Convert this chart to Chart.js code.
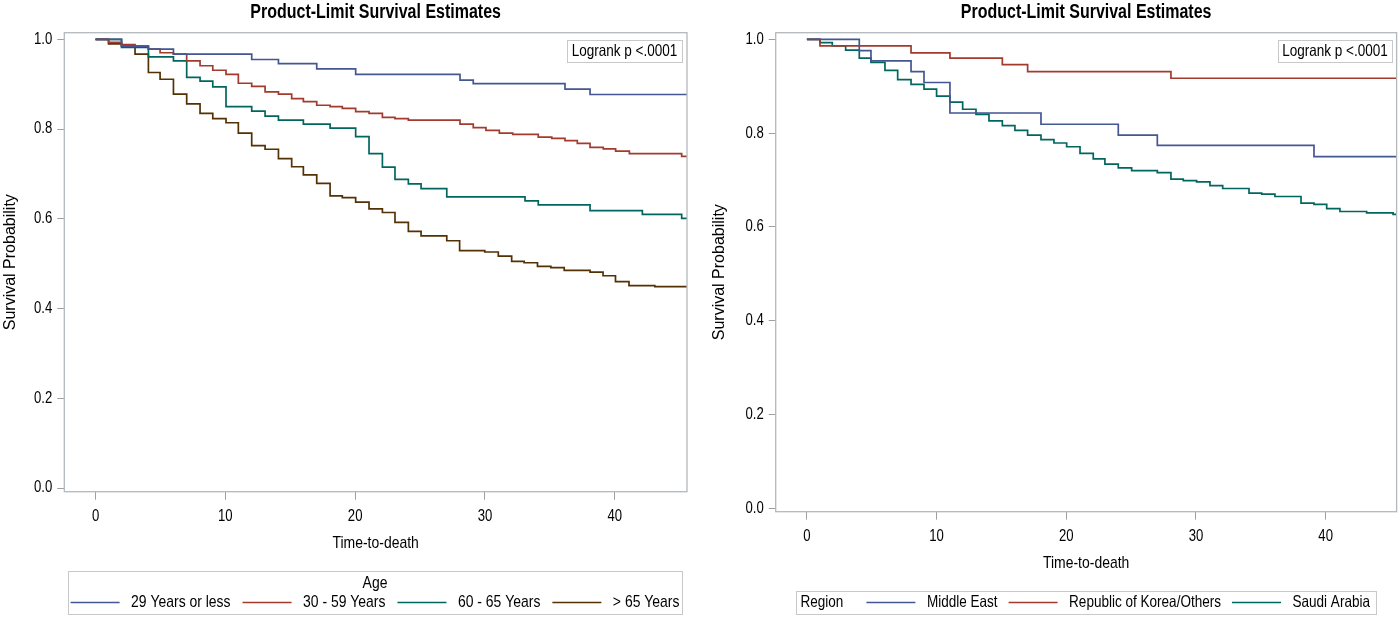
<!DOCTYPE html>
<html>
<head>
<meta charset="utf-8">
<script src="https://cdn.jsdelivr.net/npm/chart.js@4"></script>
<style>
  html, body { margin:0; padding:0; background:#fff; }
  body { width:1400px; height:617px; position:relative; overflow:hidden; }
  canvas { position:absolute; top:0; }
  #cLeft { left:0; }
  #cRight { left:700px; }
</style>
</head>
<body>
<canvas id="cLeft" width="700" height="617" style="width:700px;height:617px"></canvas>
<canvas id="cRight" width="700" height="617" style="width:700px;height:617px"></canvas>

<script>
// ---------------- DATA ----------------
const chartTitle = 'Product-Limit Survival Estimates';
const xTitle = 'Time-to-death';
const yTitle = 'Survival Probability';
const logrankText = 'Logrank p <.0001';
const xTicks = [0, 10, 20, 30, 40];
const yTicks = [0.0, 0.2, 0.4, 0.6, 0.8, 1.0];
const colors = ['#445694', '#A23A2E', '#01665E', '#543005'];

// Left panel: Age groups
const ageLegendTitle = 'Age';
const ageGroups = ['29 Years or less', '30 - 59 Years', '60 - 65 Years', '> 65 Years'];

const ageT1 = [0, 2.0, 4.07, 6.0, 12.03, 14.09, 17.04, 20.04, 28.08, 29.1, 36.17, 38.1, 46];
const ageS1 = [1, 0.985, 0.978, 0.967, 0.955, 0.946, 0.934, 0.922, 0.909, 0.901, 0.889, 0.877, 0.877];

const ageT2 = [0, 1.0, 2.0, 3.04, 4.07, 4.97, 6.0, 7.02, 8.05, 9.03, 10.05, 11.0, 12.03, 13.06, 14.09, 15.11, 16.01, 17.04, 18.07, 19.01, 20.04, 21.07, 22.1, 23.07, 24.1, 28.08, 29.1, 30.08, 31.11, 32.14, 34.11, 35.15, 36.17, 37.12, 38.1, 39.12, 40.07, 41.13, 45.16, 46];
const ageS2 = [1, 0.993, 0.988, 0.985, 0.978, 0.970, 0.967, 0.952, 0.941, 0.931, 0.922, 0.902, 0.895, 0.883, 0.878, 0.868, 0.861, 0.853, 0.850, 0.846, 0.839, 0.835, 0.826, 0.823, 0.820, 0.811, 0.803, 0.797, 0.791, 0.788, 0.782, 0.779, 0.774, 0.768, 0.759, 0.756, 0.751, 0.745, 0.739, 0.739];

const ageT3 = [0, 2.0, 4.07, 6.0, 7.02, 8.05, 9.03, 10.05, 12.03, 13.06, 14.09, 16.01, 18.07, 20.04, 21.07, 22.1, 23.07, 24.1, 25.08, 27.06, 33.09, 34.11, 38.1, 42.13, 45.16, 46];
const ageS3 = [1, 0.982, 0.961, 0.952, 0.915, 0.907, 0.894, 0.850, 0.840, 0.829, 0.820, 0.811, 0.802, 0.783, 0.745, 0.715, 0.688, 0.678, 0.667, 0.649, 0.640, 0.631, 0.618, 0.610, 0.601, 0.601];

const ageT4 = [0, 1.0, 2.0, 3.04, 4.07, 4.97, 6.0, 7.02, 8.05, 9.03, 10.05, 11.0, 12.03, 13.06, 14.09, 15.11, 16.01, 17.04, 18.07, 19.01, 20.04, 21.07, 22.1, 23.07, 24.1, 25.08, 27.06, 28.05, 29.99, 31.03, 32.06, 33.02, 34.05, 35.08, 36.11, 38.1, 39.1, 40.06, 41.1, 43.09, 46];
const ageS4 = [1, 0.990, 0.985, 0.967, 0.926, 0.911, 0.878, 0.856, 0.835, 0.823, 0.814, 0.791, 0.763, 0.755, 0.734, 0.716, 0.698, 0.679, 0.651, 0.647, 0.637, 0.622, 0.614, 0.592, 0.572, 0.562, 0.551, 0.529, 0.526, 0.517, 0.505, 0.502, 0.494, 0.491, 0.485, 0.481, 0.473, 0.460, 0.451, 0.449, 0.449];

// Right panel: Region
const regionLegendTitle = 'Region';
const regions = ['Middle East', 'Republic of Korea/Others', 'Saudi Arabia'];

const regT1 = [0, 4.04, 4.94, 8.03, 9.03, 11.03, 18.05, 24.01, 27.02, 39.1, 46];
const regS1 = [1, 0.976, 0.954, 0.931, 0.908, 0.843, 0.819, 0.796, 0.774, 0.750, 0.750];

const regT2 = [0, 1.01, 8.03, 11.03, 15.07, 17.02, 28.07, 46];
const regS2 = [1, 0.986, 0.971, 0.960, 0.946, 0.931, 0.917, 0.917];

const regT3 = [0, 1.01, 1.96, 2.99, 4.04, 4.94, 6.02, 7.0, 8.03, 9.03, 10.0, 11.03, 12.01, 13.04, 14.04, 15.07, 16.04, 17.02, 18.05, 19.05, 20.03, 21.06, 22.08, 22.98, 24.01, 25.04, 27.02, 28.07, 29.02, 30.05, 31.08, 32.06, 34.09, 35.07, 36.09, 38.1, 39.1, 40.08, 41.1, 43.16, 45.2, 46];
const regS3 = [1, 0.993, 0.986, 0.977, 0.960, 0.951, 0.934, 0.914, 0.904, 0.894, 0.879, 0.866, 0.851, 0.840, 0.826, 0.816, 0.806, 0.796, 0.786, 0.779, 0.771, 0.757, 0.745, 0.734, 0.726, 0.720, 0.716, 0.702, 0.699, 0.696, 0.688, 0.682, 0.672, 0.670, 0.665, 0.651, 0.648, 0.639, 0.633, 0.630, 0.627, 0.627];

// ---------------- FONTS ----------------
// "NarrowX" is an unknown family -> falls back to Liberation Sans; text using it is
// drawn horizontally condensed to mimic Arial Narrow.
const SX = 0.82;
const NARROW = "NarrowX, 'Liberation Sans', Arial, sans-serif";
const REGULAR = "'Liberation Sans', Arial, sans-serif";
Chart.defaults.font.family = NARROW;
Chart.defaults.color = '#000';

function condense(ctx) {
  if (ctx.__condensed) return;
  ctx.__condensed = true;
  const fill = ctx.fillText.bind(ctx);
  const measure = ctx.measureText.bind(ctx);
  ctx.fillText = function (t, x, y, maxW) {
    if (this.font.indexOf('NarrowX') >= 0) {
      this.save();
      this.translate(x, y);
      this.scale(SX, 1);
      if (maxW === undefined) fill(t, 0, 0); else fill(t, 0, 0, maxW / SX);
      this.restore();
    } else {
      if (maxW === undefined) fill(t, x, y); else fill(t, x, y, maxW);
    }
  };
  ctx.measureText = function (t) {
    const r = measure(t);
    if (this.font.indexOf('NarrowX') >= 0) {
      return { width: r.width * SX,
               actualBoundingBoxAscent: r.actualBoundingBoxAscent,
               actualBoundingBoxDescent: r.actualBoundingBoxDescent,
               actualBoundingBoxLeft: r.actualBoundingBoxLeft * SX,
               actualBoundingBoxRight: r.actualBoundingBoxRight * SX };
    }
    return r;
  };
}
const condensePlugin = { id: 'condense', beforeInit(chart) { condense(chart.ctx); } };

// ---------------- DECORATION PLUGIN ----------------
const frameColor = '#b2b8bc';
const boxBorder = '#c8c8c8';
const decorPlugin = {
  id: 'decor',
  afterDraw(chart, args, opts) {
    const a = chart.chartArea, ctx = chart.ctx;
    ctx.save();
    // plot frame
    ctx.strokeStyle = frameColor;
    ctx.lineWidth = 1.3;
    ctx.strokeRect(a.left, a.top, a.right - a.left, a.bottom - a.top);
    // logrank inset
    const lb = opts.logrank;
    ctx.fillStyle = '#fff';
    ctx.fillRect(lb.x, lb.y, lb.w, lb.h);
    ctx.strokeStyle = boxBorder; ctx.lineWidth = 1;
    ctx.strokeRect(lb.x + 0.5, lb.y + 0.5, lb.w, lb.h);
    ctx.fillStyle = '#000';
    ctx.font = '16.5px ' + NARROW;
    ctx.textAlign = 'center'; ctx.textBaseline = 'middle';
    ctx.fillText(logrankText, lb.x + lb.w / 2, lb.y + lb.h / 2 + 0.5);
    // legend
    const L = opts.legend;
    ctx.strokeStyle = boxBorder; ctx.lineWidth = 1;
    ctx.strokeRect(L.x + 0.5, L.y + 0.5, L.w, L.h);
    ctx.font = L.fontSize + 'px ' + NARROW;
    ctx.textBaseline = 'middle';
    const items = chart.data.datasets.map(d => ({ label: d.label, color: d.borderColor }));
    const lineW = 49, gapT = 11.5, gapI = L.gapItem;
    const widths = items.map(it => lineW + gapT + ctx.measureText(it.label).width);
    let x;
    if (L.inlineTitle) {
      ctx.textAlign = 'left';
      ctx.fillText(L.title, L.titleX, L.rowY);
      x = L.rowX;
    } else {
      ctx.textAlign = 'center';
      ctx.fillText(L.title, L.x + L.w / 2, L.titleY);
      const total = widths.reduce((s, w) => s + w, 0) + gapI * (items.length - 1);
      x = L.x + L.w / 2 - total / 2;
    }
    items.forEach((it, i) => {
      ctx.strokeStyle = it.color; ctx.lineWidth = 1.3;
      ctx.beginPath(); ctx.moveTo(x, L.rowY); ctx.lineTo(x + lineW, L.rowY); ctx.stroke();
      ctx.textAlign = 'left'; ctx.fillStyle = '#000';
      ctx.fillText(it.label, x + lineW + gapT, L.rowY);
      x += widths[i] + gapI;
    });
    ctx.restore();
  }
};

// ---------------- BUILD ----------------
function toXY(ts, ss) { return ts.map((t, i) => ({ x: t, y: ss[i] })); }

function makeChart(id, names, tArrs, sArrs, cfg) {
  const datasets = names.map((n, i) => ({
    label: n,
    data: toXY(tArrs[i], sArrs[i]),
    borderColor: colors[i],
    backgroundColor: colors[i],
    borderWidth: 1.7,
    pointRadius: 0,
    stepped: 'before',
    fill: false
  }));
  return new Chart(document.getElementById(id), {
    type: 'line',
    data: { datasets },
    plugins: [condensePlugin, decorPlugin],
    options: {
      responsive: false,
      animation: false,
      devicePixelRatio: 1,
      layout: { padding: { left: 0, right: cfg.padRight, top: 0, bottom: cfg.padBottom } },
      plugins: {
        legend: { display: false },
        tooltip: { enabled: false },
        title: {
          display: true, text: chartTitle, fullSize: false,
          font: { family: NARROW, size: 19.5, weight: 'bold' },
          color: '#000',
          padding: { top: 1, bottom: 32.7 - 1 - 19.5 * 1.2 }
        },
        decor: { logrank: cfg.logrank, legend: cfg.legend }
      },
      scales: {
        x: {
          type: 'linear', min: cfg.xMin, max: cfg.xMax,
          afterBuildTicks: s => { s.ticks = xTicks.map(v => ({ value: v })); },
          afterFit: s => { s.height = 61.9; },
          grid: { drawOnChartArea: false, color: '#9aa0a4', tickLength: 8, lineWidth: 1 },
          border: { display: false },
          ticks: { font: { size: 16 }, padding: 7, color: '#000', maxRotation: 0,
                   callback: v => String(v) },
          title: { display: true, text: xTitle, font: { family: NARROW, size: 17 }, color: '#000',
                   padding: { top: 0, bottom: 0 } }
        },
        y: {
          type: 'linear', min: cfg.yMin, max: cfg.yMax,
          afterBuildTicks: s => { s.ticks = yTicks.map(v => ({ value: v })); },
          afterFit: s => { s.width = cfg.yWidth; },
          grid: { drawOnChartArea: false, color: '#9aa0a4', tickLength: 7, lineWidth: 1 },
          border: { display: false },
          ticks: { font: { size: 16 }, padding: 5, color: '#000',
                   callback: v => Number(v).toFixed(1) },
          title: { display: true, text: yTitle, font: { family: REGULAR, size: 16 }, color: '#000',
                   padding: { top: cfg.yTitlePad, bottom: 0 } }
        }
      }
    }
  });
}

makeChart('cLeft', ageGroups, [ageT1, ageT2, ageT3, ageT4], [ageS1, ageS2, ageS3, ageS4], {
  xMin: -2.41, xMax: 45.57, yMin: -0.0082, yMax: 1.0147,
  padRight: 13, padBottom: 617 - 491.7 - 61.9, yWidth: 64.3, yTitlePad: 0.7,
  logrank: { x: 567, y: 40, w: 115, h: 22 },
  legend: { x: 68, y: 571, w: 614, h: 43, title: ageLegendTitle, inlineTitle: false,
            titleY: 583, rowY: 602.5, gapItem: 12, fontSize: 17 }
});

makeChart('cRight', regions, [regT1, regT2, regT3], [regS1, regS2, regS3], {
  xMin: -2.405, xMax: 45.47, yMin: -0.0068, yMax: 1.0141,
  padRight: 3.4, padBottom: 617 - 511.7 - 61.9, yWidth: 75.7, yTitlePad: 10.4,
  logrank: { x: 578, y: 40, w: 114, h: 22 },
  legend: { x: 96, y: 591, w: 580, h: 23, title: regionLegendTitle, inlineTitle: true,
            titleX: 100.4, rowX: 166.4, rowY: 602.5, gapItem: 11, fontSize: 16.5 }
});
</script>
</body>
</html>
